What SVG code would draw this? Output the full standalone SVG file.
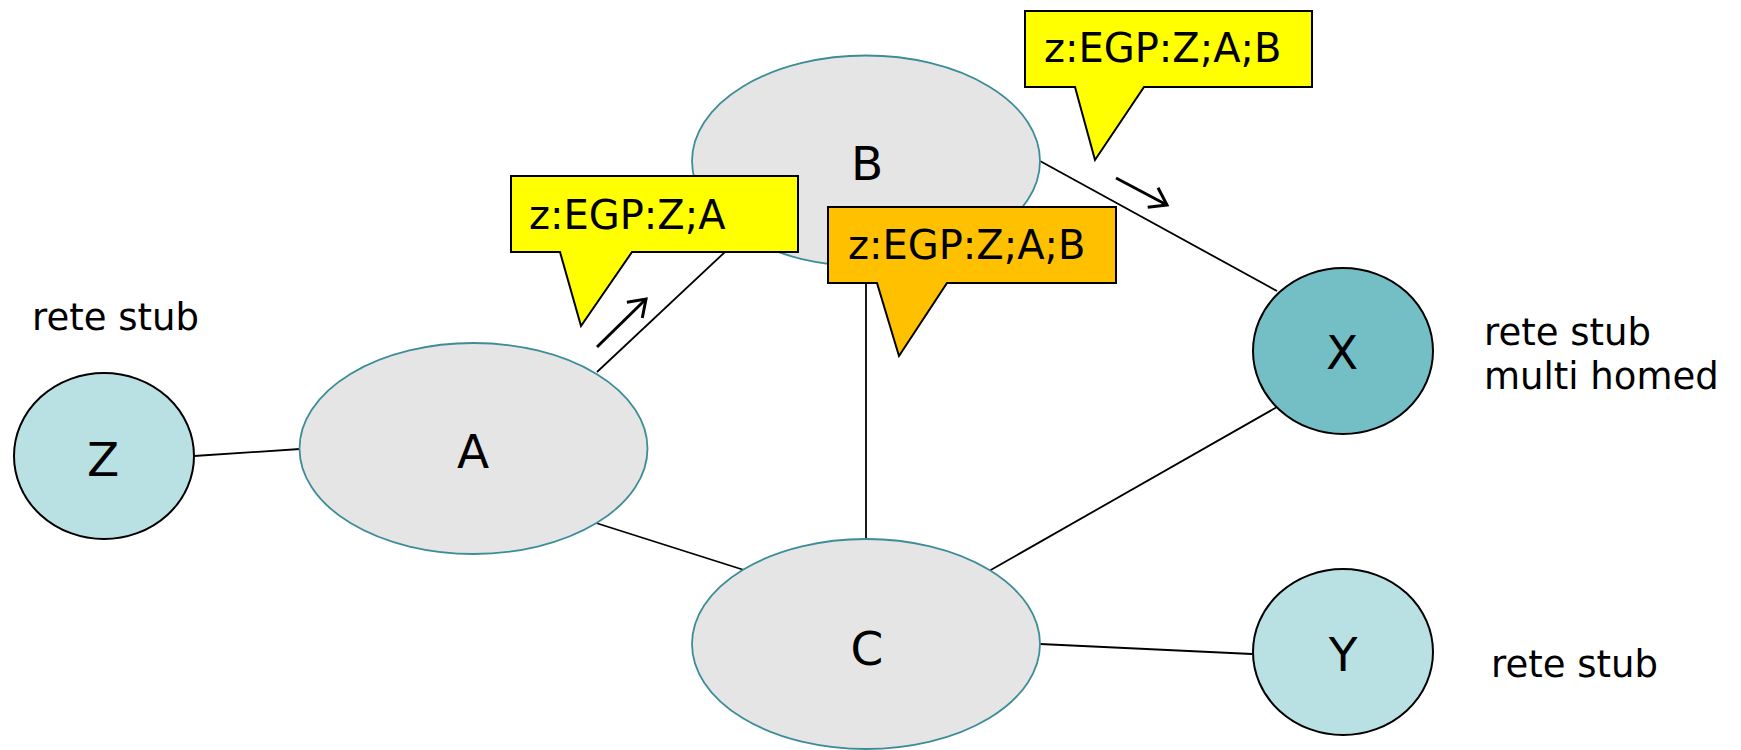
<svg xmlns="http://www.w3.org/2000/svg" width="1741" height="750" viewBox="0 0 1741 750">
<style>
.lbl{font-family:"DejaVu Sans",Verdana,sans-serif;fill:#000}
.node{font-size:47px;text-anchor:middle}
.note{font-size:37px}
.call{font-size:40px}
.as{fill:#e5e5e5;stroke:#3d8d98;stroke-width:1.8}
.stub{fill:#b9e0e3;stroke:#000;stroke-width:2}
.mh{fill:#74bfc5;stroke:#000;stroke-width:2}
.edge{stroke:#000;stroke-width:1.8;fill:none}
.arr{stroke:#000;stroke-width:3;fill:none}
.bub{stroke:#000;stroke-width:2}
</style>
<defs>
<marker id="open" markerWidth="24" markerHeight="26" refX="18" refY="12" orient="auto" markerUnits="userSpaceOnUse">
<polyline points="2,1 18,12 2,23" fill="none" stroke="#000" stroke-width="3"/>
</marker>
</defs>
<rect width="1741" height="750" fill="#fff"/>
<g id="connectors">
<line class="edge" x1="194" y1="456" x2="300" y2="449"/>
<line class="edge" x1="597" y1="372" x2="742" y2="236"/>
<line class="edge" x1="1040" y1="161" x2="1277" y2="291"/>
<line class="edge" x1="866" y1="266" x2="866" y2="539"/>
<line class="edge" x1="596" y1="523" x2="744" y2="570"/>
<line class="edge" x1="989" y1="571" x2="1277" y2="407"/>
<line class="edge" x1="1040" y1="644" x2="1252" y2="654"/>
<line class="arr" x1="597" y1="347" x2="646" y2="299" marker-end="url(#open)"/>
<line class="arr" x1="1116" y1="178" x2="1167" y2="205" marker-end="url(#open)"/>
</g>
<g id="node-Z">
<ellipse class="stub" cx="104" cy="456" rx="90" ry="83"/>
<text class="lbl node" x="103" y="476">Z</text>
</g>
<g id="node-A">
<ellipse class="as" cx="473.5" cy="448.5" rx="174" ry="105.5"/>
<text class="lbl node" x="473" y="468">A</text>
</g>
<g id="node-B">
<ellipse class="as" cx="866" cy="161" rx="174" ry="105.5"/>
<text class="lbl node" x="867" y="180">B</text>
</g>
<g id="node-C">
<ellipse class="as" cx="866" cy="644" rx="174" ry="105"/>
<text class="lbl node" x="867" y="665">C</text>
</g>
<g id="node-X">
<ellipse class="mh" cx="1343" cy="351" rx="90" ry="83"/>
<text class="lbl node" x="1342" y="369">X</text>
</g>
<g id="node-Y">
<ellipse class="stub" cx="1343" cy="652" rx="90" ry="83"/>
<text class="lbl node" x="1343" y="671">Y</text>
</g>
<g id="callout-A">
<path class="bub" fill="#ffff00" d="M511,176 H798 V252 H632 L581,326 L560,252 H511 Z"/>
<text class="lbl call" x="529" y="229">z:EGP:Z;A</text>
</g>
<g id="callout-B-top">
<path class="bub" fill="#ffff00" d="M1025,11 H1312 V87 H1144 L1095,160 L1075,87 H1025 Z"/>
<text class="lbl call" x="1044" y="62">z:EGP:Z;A;B</text>
</g>
<g id="callout-B-mid">
<path class="bub" fill="#ffc000" d="M828,207 H1116 V283 H947 L899,356 L877,283 H828 Z"/>
<text class="lbl call" x="848" y="259">z:EGP:Z;A;B</text>
</g>
<g id="labels">
<text class="lbl note" x="32" y="330">rete stub</text>
<text class="lbl note" x="1484" y="345">rete stub</text>
<text class="lbl note" x="1484" y="389">multi homed</text>
<text class="lbl note" x="1491" y="677">rete stub</text>
</g>
</svg>
